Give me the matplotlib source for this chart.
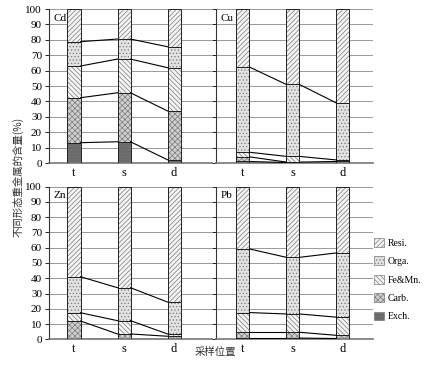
import numpy as np
import matplotlib.pyplot as plt
from matplotlib.patches import Patch

plt.rcParams['font.family'] = ['Liberation Serif', 'Noto Sans CJK SC']
plt.rcParams['hatch.linewidth'] = 0.5

sites = ['t', 's', 'd']
fractions = ['Exch.', 'Carb.', 'Fe&Mn.', 'Orga.', 'Resi.']

# per-fraction percentage, order: Exch, Carb, Fe&Mn, Orga, Resi
cd = [[13.2, 13.8, 2.1], [29.2, 31.8, 31.7], [20.6, 21.9, 28.1], [15.8, 13.0, 13.6], [21.2, 19.5, 24.5]]
cu = [[1.0, 0.3, 0.3], [3.0, 0.3, 0.7], [3.0, 3.7, 1.0], [55.3, 46.7, 37.0], [37.7, 49.0, 61.0]]
zn = [[0.5, 0.5, 0.5], [11.5, 3.0, 1.5], [5.4, 8.7, 1.5], [23.6, 21.6, 20.9], [59.0, 66.2, 75.6]]
pb = [[0.8, 0.8, 0.5], [3.8, 3.8, 2.1], [12.9, 12.0, 11.9], [41.7, 37.1, 42.1], [40.8, 46.3, 43.4]]
metals = ['Cd', 'Cu', 'Zn', 'Pb']

styles = {
    'Exch.': dict(fc='#6a6a6a', hatch='.....'),
    'Carb.': dict(fc='#d0d0d0', hatch='xxxxxx'),
    'Fe&Mn.': dict(fc='#f4f4f4', hatch='\\\\\\\\\\\\\\'),
    'Orga.': dict(fc='#e2e2e2', hatch='.....'),
    'Resi.': dict(fc='#f4f4f4', hatch='///////'),
}

fig = plt.figure(figsize=(4.43, 3.68), dpi=100)
pos = [
    [0.1106, 0.557, 0.368, 0.4185],
    [0.4876, 0.557, 0.354, 0.4185],
    [0.1106, 0.078, 0.368, 0.4147],
    [0.4876, 0.078, 0.354, 0.4147],
]
xlims = [(-0.5, 2.76), (-0.54, 2.6), (-0.5, 2.76), (-0.54, 2.6)]
w = 0.26
x = np.arange(len(sites))

for k, (name, vals) in enumerate(zip(metals, [cd, cu, zn, pb])):
    ax = fig.add_axes(pos[k])
    vals = np.array(vals)
    tops = np.cumsum(vals, axis=0)
    bottoms = tops - vals
    ax.set_axisbelow(True)
    ax.yaxis.grid(True, color='#999999', lw=0.7)
    for j, fr in enumerate(fractions):
        st = styles[fr]
        ax.bar(x, vals[j], w, bottom=bottoms[j], color=st['fc'], hatch=st['hatch'],
               edgecolor='#7a7a7a', linewidth=0, zorder=2)
        ax.bar(x, vals[j], w, bottom=bottoms[j], fill=False, edgecolor='#222222',
               linewidth=0.7, zorder=3)
    # connecting lines between boundaries
    for j in range(len(fractions) - 1):
        for i in range(len(sites) - 1):
            ax.plot([x[i] + w / 2, x[i + 1] - w / 2], [tops[j][i], tops[j][i + 1]],
                    color='black', lw=0.8, zorder=4)
    ax.set_xlim(*xlims[k])
    ax.set_ylim(0, 100)
    ax.set_yticks(np.arange(0, 101, 10))
    ax.set_xticks(x)
    ax.set_xticklabels(sites, fontsize=9)
    ax.tick_params(axis='x', length=0, pad=3)
    ax.tick_params(axis='y', length=3, width=0.6, labelsize=8, pad=2)
    if k % 2 == 1:
        ax.set_yticklabels([])
    for s in ['top', 'right']:
        ax.spines[s].set_visible(False)
    ax.spines['left'].set_color('#333333')
    ax.spines['left'].set_linewidth(0.8)
    ax.spines['bottom'].set_color('#777777')
    ax.spines['bottom'].set_linewidth(1.2)
    ax.text(0.03, 0.97, name, transform=ax.transAxes, ha='left', va='top', fontsize=8,
            zorder=5)

handles = [Patch(facecolor=styles[f]['fc'], hatch=styles[f]['hatch'], edgecolor='#7a7a7a',
                 linewidth=0.5, label=f) for f in reversed(fractions)]
fig.legend(handles=handles, loc='center left', bbox_to_anchor=(0.825, 0.24), frameon=False,
           fontsize=7, handlelength=1.0, handleheight=1.0, labelspacing=0.9, handletextpad=0.4)

fig.text(0.04, 0.52, '不同形态重金属的含量(%)', rotation=90, ha='center', va='center',
         fontsize=7.5, family=['Noto Sans CJK SC'], color='#333333')
fig.text(0.487, 0.043, '采样位置', ha='center', va='center', fontsize=7.5,
         family=['Noto Sans CJK SC'], color='#333333')

fig.savefig('out.png', dpi=100)
